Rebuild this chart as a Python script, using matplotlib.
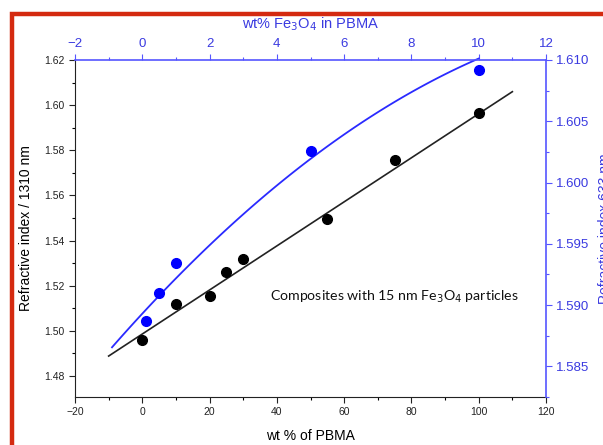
import numpy as np
import matplotlib
matplotlib.use("Agg")
import matplotlib.pyplot as plt
from matplotlib.ticker import MultipleLocator
from matplotlib.patches import Rectangle

# ---- data ----
pbma_wt = [0, 10, 20, 25, 30, 55, 75, 100]
n_1310 = [1.4960, 1.5118, 1.5155, 1.5260, 1.5318, 1.5496, 1.5759, 1.5965]
fe3o4_wt = [0.1, 0.5, 1.0, 5.0, 10.0]
n_633 = [1.5887, 1.5910, 1.5934, 1.6026, 1.6092]
# fitted curves as drawn in the reference
black_fit_coeffs = [0.000976, 1.4986]          # linear: slope, intercept
black_fit_range = [-10, 110]
blue_fit_coeffs = [-0.0000888, 0.00297, 1.5893]  # quadratic
blue_fit_range = [-0.9, 10]

W, H = 603, 445
fig = plt.figure(figsize=(W / 100, H / 100), dpi=100)
fig.patch.set_facecolor("white")

left, right, top, bottom = 75, 546, 60, 397
pos = [left / W, 1 - bottom / H, (right - left) / W, (bottom - top) / H]

arial = "Liberation Sans"
blue = "#0000ff"
axblue = "#5555ff"
txtblue = "#3a3ae0"

ax = fig.add_axes(pos)
ax.set_xlim(-20, 120)
ax.set_ylim(1.4707, 1.62)
ax.xaxis.set_major_locator(MultipleLocator(20))
ax.xaxis.set_minor_locator(MultipleLocator(10))
ax.yaxis.set_major_locator(MultipleLocator(0.02))
ax.yaxis.set_minor_locator(MultipleLocator(0.01))
ax.yaxis.set_major_formatter(matplotlib.ticker.FormatStrFormatter("%.2f"))
ax.tick_params(which="major", direction="out", length=4, width=0.8, labelsize=7.5, colors="#222222")
ax.tick_params(which="minor", direction="out", length=2, width=0.8)
for lbl in ax.get_xticklabels() + ax.get_yticklabels():
    lbl.set_fontfamily(arial)
ax.spines["top"].set_visible(False)
ax.spines["right"].set_visible(False)
ax.spines["left"].set_color("#222222")
ax.spines["bottom"].set_color("#222222")
ax.set_xlabel("wt % of PBMA", fontsize=10, fontfamily=arial, labelpad=8)
ax.set_ylabel("Refractive index / 1310 nm", fontsize=10, fontfamily=arial, labelpad=8)

xb = np.linspace(black_fit_range[0], black_fit_range[1], 50)
ax.plot(xb, np.polyval(black_fit_coeffs, xb), color="#222222", lw=1.2, zorder=2)
ax.plot(pbma_wt, n_1310, "o", color="black", ms=7, zorder=3)
ax.text(38, 1.515, "Composites with 15 nm Fe$_3$O$_4$ particles", fontsize=10.2,
        fontfamily="Lato", va="center", ha="left", color="#111111")

ax2 = fig.add_axes(pos, facecolor="none")
ax2.set_xlim(-2, 12)
ax2.set_ylim(1.5825, 1.610)
ax2.xaxis.tick_top()
ax2.xaxis.set_label_position("top")
ax2.yaxis.tick_right()
ax2.yaxis.set_label_position("right")
ax2.xaxis.set_major_locator(MultipleLocator(2))
ax2.xaxis.set_minor_locator(MultipleLocator(1))
ax2.yaxis.set_major_locator(MultipleLocator(0.005))
ax2.yaxis.set_minor_locator(MultipleLocator(0.0025))
ax2.yaxis.set_major_formatter(matplotlib.ticker.FormatStrFormatter("%.3f"))
ax2.tick_params(which="major", direction="out", length=4, width=0.8, colors=axblue,
                labelcolor=txtblue, labelsize=9.5)
ax2.tick_params(which="minor", direction="out", length=2, width=0.8, colors=axblue)
for lbl in ax2.get_xticklabels() + ax2.get_yticklabels():
    lbl.set_fontfamily(arial)
for s in ["left", "bottom"]:
    ax2.spines[s].set_visible(False)
ax2.spines["top"].set_color(axblue)
ax2.spines["right"].set_color(axblue)
ax2.spines["top"].set_linewidth(1.2)
ax2.spines["right"].set_linewidth(1.2)
ax2.set_xlabel("wt% Fe$_3$O$_4$ in PBMA", fontsize=10.5, color=txtblue, fontfamily=arial, labelpad=7)
ax2.set_ylabel("Refractive index 633 nm", fontsize=10, color=txtblue, fontfamily=arial, labelpad=6)

xf = np.linspace(blue_fit_range[0], blue_fit_range[1], 100)
ax2.plot(xf, np.polyval(blue_fit_coeffs, xf), color="#2a2aff", lw=1.3, zorder=2, clip_on=False)
ax2.plot(fe3o4_wt, n_633, "o", color=blue, ms=7, zorder=3, clip_on=False)

# red frame (partially visible in the crop)
fig.patches.append(Rectangle((12 / W, -0.1), 1.2, (H - 13.5) / H + 0.1,
                             transform=fig.transFigure, fill=False,
                             edgecolor="#d42a10", lw=3.2))

fig.savefig("out.png", dpi=100)
